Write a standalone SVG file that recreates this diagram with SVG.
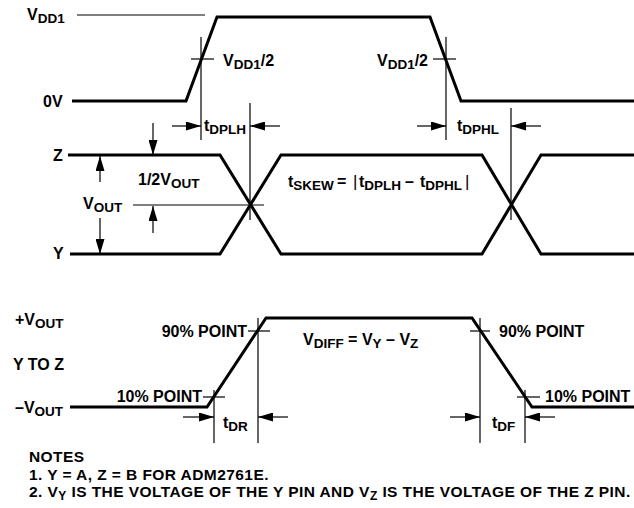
<svg xmlns="http://www.w3.org/2000/svg" width="634" height="508" viewBox="0 0 634 508">
<style>
text{font-family:"Liberation Sans",Arial,sans-serif;font-weight:bold;font-size:16px;fill:#000}
.s{font-size:13.5px}
.n{font-size:15.5px;letter-spacing:0.43px}
.ns{font-size:12px}
.bar{font-weight:normal;font-size:17px}
.thick{fill:none;stroke:#000;stroke-width:3;stroke-linejoin:miter}
.thin{fill:none;stroke:#000;stroke-width:1.2}
.arr{fill:none;stroke:#000;stroke-width:1.2;marker-end:url(#ah)}
</style>
<defs>
<marker id="ah" markerUnits="userSpaceOnUse" markerWidth="15" markerHeight="9" refX="15" refY="4.5" orient="auto">
<path d="M0,0 L15,4.5 L0,9 z" fill="#000"/>
</marker>
</defs>
<rect width="634" height="508" fill="#fff"/>

<g id="input">
<line class="thin" x1="77" y1="15" x2="205" y2="15"/>
<path class="thick" d="M72,101 H186 L217,17 H430 L461,101 H634"/>
<text x="27" y="20">V<tspan class="s" dy="3">DD1</tspan></text>
<text x="43" y="107">0V</text>
<line class="thin" x1="201" y1="37" x2="201" y2="140"/>
<line class="thin" x1="191" y1="59" x2="214" y2="59"/>
<text x="223" y="66">V<tspan class="s" dy="3">DD1</tspan><tspan dy="-3">/2</tspan></text>
<line class="thin" x1="446" y1="37" x2="446" y2="140"/>
<line class="thin" x1="433" y1="59" x2="456" y2="59"/>
<text x="428" y="66" text-anchor="end">V<tspan class="s" dy="3">DD1</tspan><tspan dy="-3">/2</tspan></text>
</g>

<g id="tdplh">
<line class="thin" x1="250" y1="103" x2="250" y2="220"/>
<line class="arr" x1="172" y1="126" x2="201" y2="126"/>
<line class="arr" x1="280" y1="126" x2="250" y2="126"/>
<text x="204" y="131">t<tspan class="s" dy="3">DPLH</tspan></text>
</g>

<g id="tdphl">
<line class="thin" x1="511" y1="108" x2="511" y2="220"/>
<line class="arr" x1="417" y1="126" x2="446" y2="126"/>
<line class="arr" x1="541" y1="126" x2="511" y2="126"/>
<text x="457" y="131">t<tspan class="s" dy="3">DPHL</tspan></text>
</g>

<g id="output">
<text x="53" y="161">Z</text>
<text x="53" y="259">Y</text>
<path class="thick" d="M68,155 H220 L281,254 H482 L541,155 H634"/>
<path class="thick" d="M70,254 H220 L281,155 H482 L541,254 H634"/>
<line class="thin" x1="133" y1="205" x2="264" y2="205"/>
<line class="arr" x1="153" y1="123" x2="153" y2="155"/>
<line class="arr" x1="153" y1="233" x2="153" y2="206"/>
<line class="arr" x1="100" y1="182" x2="100" y2="156"/>
<line class="arr" x1="100" y1="218" x2="100" y2="254"/>
<text x="83" y="209">V<tspan class="s" dy="3">OUT</tspan></text>
<text x="138" y="185">1/2V<tspan class="s" dy="3">OUT</tspan></text>
<text x="288" y="187">t<tspan class="s" dy="3">SKEW</tspan><tspan x="337" dy="-3">=</tspan><tspan class="bar" x="353">|</tspan><tspan x="359">t</tspan><tspan class="s" dy="3">DPLH</tspan><tspan x="405" dy="-3">–</tspan><tspan x="420">t</tspan><tspan class="s" dy="3">DPHL</tspan><tspan class="bar" x="465" dy="-3">|</tspan></text>
</g>

<g id="diff">
<text x="15" y="325">+V<tspan class="s" dy="3">OUT</tspan></text>
<text x="13" y="370">Y TO Z</text>
<text x="15" y="413">–V<tspan class="s" dy="3">OUT</tspan></text>
<path class="thick" d="M70,407 H207 L266,318 H472 L532,407 H634"/>
<text x="303" y="345">V<tspan class="s" dy="3">DIFF</tspan><tspan dy="-3"> = V</tspan><tspan class="s" dy="3">Y</tspan><tspan dy="-3"> – V</tspan><tspan class="s" dy="3">Z</tspan></text>
<line class="thin" x1="248" y1="331" x2="270" y2="331"/>
<line class="thin" x1="258" y1="318" x2="258" y2="443"/>
<text x="247" y="337" text-anchor="end">90% POINT</text>
<line class="thin" x1="203" y1="397" x2="225" y2="397"/>
<line class="thin" x1="214" y1="390" x2="214" y2="443"/>
<text x="202" y="402" text-anchor="end">10% POINT</text>
<line class="thin" x1="470" y1="331" x2="490" y2="331"/>
<line class="thin" x1="480" y1="318" x2="480" y2="443"/>
<text x="499" y="337">90% POINT</text>
<line class="thin" x1="517" y1="397" x2="540" y2="397"/>
<line class="thin" x1="525" y1="390" x2="525" y2="443"/>
<text x="545" y="402">10% POINT</text>
</g>

<g id="tdr">
<line class="arr" x1="183" y1="417" x2="214" y2="417"/>
<line class="arr" x1="288" y1="417" x2="258" y2="417"/>
<text x="223" y="428">t<tspan class="s" dy="3">DR</tspan></text>
</g>

<g id="tdf">
<line class="arr" x1="450" y1="417" x2="480" y2="417"/>
<line class="arr" x1="555" y1="417" x2="525" y2="417"/>
<text x="492" y="428">t<tspan class="s" dy="3">DF</tspan></text>
</g>

<g id="notes">
<text class="n" x="29" y="462">NOTES</text>
<text class="n" x="29" y="480">1. Y = A, Z = B FOR ADM2761E.</text>
<text class="n" x="29" y="497">2. V<tspan class="ns" dy="3">Y</tspan><tspan dy="-3"> IS THE VOLTAGE OF THE Y PIN AND V</tspan><tspan class="ns" dy="3">Z</tspan><tspan dy="-3"> IS THE VOLTAGE OF THE Z PIN.</tspan></text>
</g>
</svg>
